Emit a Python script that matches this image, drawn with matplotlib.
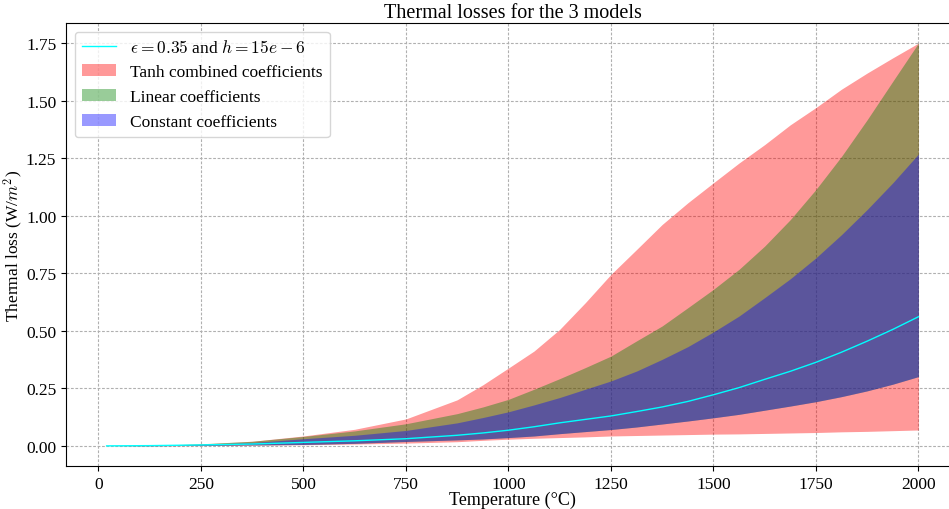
import matplotlib
matplotlib.use("Agg")
import matplotlib.pyplot as plt
from matplotlib.ticker import FormatStrFormatter

plt.rcParams['font.family'] = ['Liberation Serif', 'DejaVu Serif']
plt.rcParams['mathtext.fontset'] = 'cm'

temperature = [20, 125, 250, 375, 500, 625, 750, 875, 937.5, 1000, 1062.5, 1125, 1187.5, 1250,
               1312.5, 1375, 1437.5, 1500, 1562.5, 1625, 1687.5, 1750, 1812.5, 1875, 1937.5, 2000]

reference_loss = [0.0, 0.001, 0.004, 0.008, 0.015, 0.022, 0.031, 0.046, 0.056, 0.068, 0.083, 0.1, 0.115,
                  0.13, 0.149, 0.169, 0.193, 0.222, 0.253, 0.289, 0.324, 0.363, 0.407, 0.455, 0.506, 0.561]

tanh_upper = [0.0, 0.002, 0.008, 0.02, 0.043, 0.072, 0.117, 0.2, 0.265, 0.338, 0.412, 0.506, 0.622,
              0.745, 0.853, 0.962, 1.056, 1.143, 1.229, 1.309, 1.395, 1.47, 1.55, 1.62, 1.686, 1.75]
tanh_lower = [0.0, 0.0003, 0.001, 0.003, 0.005, 0.008, 0.012, 0.018, 0.024, 0.029, 0.033, 0.036, 0.039,
              0.043, 0.045, 0.047, 0.049, 0.051, 0.052, 0.054, 0.056, 0.058, 0.061, 0.063, 0.066, 0.069]

linear_upper = [0.0, 0.002, 0.009, 0.02, 0.041, 0.065, 0.096, 0.14, 0.169, 0.202, 0.246, 0.292, 0.34,
                0.39, 0.456, 0.521, 0.6, 0.68, 0.767, 0.868, 0.983, 1.114, 1.258, 1.417, 1.584, 1.75]
linear_lower = [0.0, 0.0005, 0.002, 0.004, 0.006, 0.011, 0.019, 0.026, 0.03, 0.036, 0.043, 0.053, 0.062,
                0.071, 0.082, 0.095, 0.108, 0.122, 0.137, 0.155, 0.173, 0.192, 0.214, 0.239, 0.268, 0.301]

constant_upper = [0.0, 0.0015, 0.006, 0.014, 0.031, 0.046, 0.067, 0.1, 0.123, 0.148, 0.178, 0.21, 0.246,
                  0.282, 0.325, 0.376, 0.431, 0.495, 0.564, 0.644, 0.726, 0.817, 0.918, 1.027, 1.143, 1.268]
constant_lower = [0.0, 0.0005, 0.002, 0.004, 0.006, 0.011, 0.019, 0.026, 0.03, 0.036, 0.043, 0.053, 0.062,
                  0.071, 0.082, 0.095, 0.108, 0.122, 0.137, 0.155, 0.173, 0.192, 0.214, 0.239, 0.268, 0.301]

fig = plt.figure(figsize=(9.49, 5.10), dpi=100)
ax = fig.add_axes([66/949, 43/510, (959-66)/949, (467-24)/510])

f_tanh = ax.fill_between(temperature, tanh_lower, tanh_upper, color='red', alpha=0.4, linewidth=0)
f_lin = ax.fill_between(temperature, linear_lower, linear_upper, color='green', alpha=0.4, linewidth=0)
f_const = ax.fill_between(temperature, constant_lower, constant_upper, color='blue', alpha=0.4, linewidth=0)
line, = ax.plot(temperature, reference_loss, color='cyan', linewidth=1.0, zorder=5)

ax.set_xlim(-79, 2099)
ax.set_ylim(-0.0875, 1.8375)
ax.set_xticks([0, 250, 500, 750, 1000, 1250, 1500, 1750, 2000])
ax.set_yticks([0.0, 0.25, 0.5, 0.75, 1.0, 1.25, 1.5, 1.75])
ax.yaxis.set_major_formatter(FormatStrFormatter('%.2f'))
ax.tick_params(labelsize=12.5)
ax.grid(True, linestyle=(0, (2.5, 1.5)), color='#b0b0b0', linewidth=0.8)
ax.set_axisbelow(True)

ax.set_title('Thermal losses for the 3 models', fontsize=14.5, pad=4)
ax.set_xlabel('Temperature (°C)', fontsize=13, labelpad=-1)
ax.set_ylabel(r'Thermal loss (W/$m^2$)', fontsize=12.5)
ax.yaxis.set_label_coords(-0.046, 0.5)
ax.legend([line, f_tanh, f_lin, f_const],
          [r'$\epsilon = 0.35$ and $h = 15e - 6$', 'Tanh combined coefficients',
           'Linear coefficients', 'Constant coefficients'],
          loc='upper left', fontsize=12.5)

fig.savefig('out.png', dpi=100)
